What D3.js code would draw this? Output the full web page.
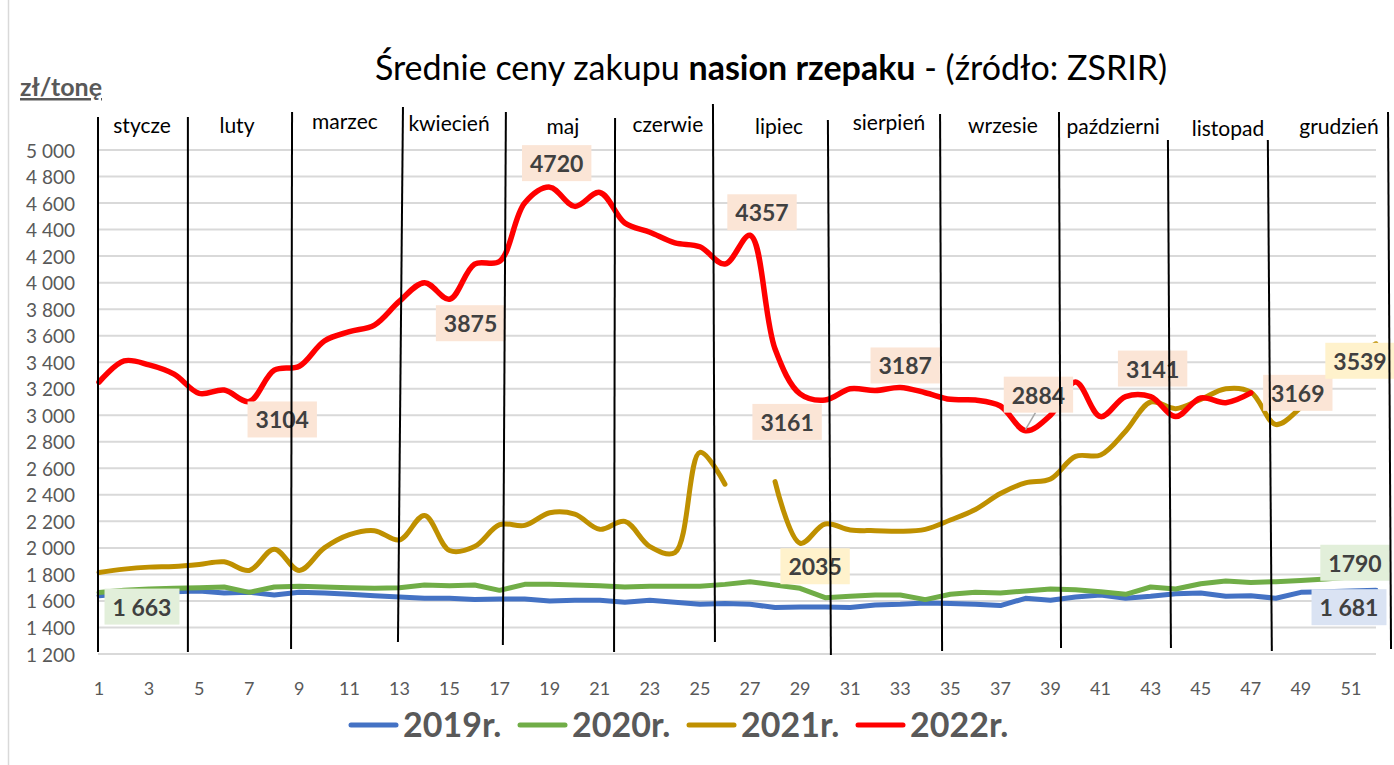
<!DOCTYPE html>
<html>
<head>
<meta charset="utf-8">
<script src="https://cdn.jsdelivr.net/npm/d3@7"></script>
<style>
  html, body { margin: 0; padding: 0; background: #fff; }
  svg { display: block; font-family: Lato, Carlito, Calibri, "Open Sans", sans-serif; }
</style>
</head>
<body>
<div id="chart"></div>
<script>
// ---------------------------------------------------------------------------
// Średnie ceny zakupu nasion rzepaku (ZSRIR) — weekly prices, zł/tonę
// ---------------------------------------------------------------------------

const weeks = d3.range(1, 53);

const seriesNames = ['2019r.', '2020r.', '2021r.', '2022r.'];

const price2019 = [1640, 1655, 1665, 1670, 1675, 1660, 1665, 1645, 1665, 1660,
  1650, 1640, 1630, 1620, 1620, 1610, 1615, 1615, 1600, 1605,
  1605, 1590, 1605, 1590, 1575, 1580, 1575, 1550, 1555, 1555,
  1550, 1570, 1575, 1585, 1580, 1575, 1565, 1620, 1605, 1630,
  1645, 1620, 1635, 1655, 1660, 1635, 1640, 1620, 1665, 1670,
  1675, 1681];

const price2020 = [1663, 1680, 1690, 1695, 1700, 1705, 1665, 1705, 1710, 1705,
  1700, 1695, 1700, 1720, 1715, 1720, 1680, 1725, 1725, 1720,
  1715, 1705, 1710, 1710, 1710, 1725, 1745, 1720, 1695, 1625,
  1635, 1645, 1645, 1610, 1650, 1665, 1660, 1675, 1690, 1685,
  1670, 1650, 1705, 1690, 1730, 1750, 1740, 1745, 1755, 1765,
  1780, 1790];

const price2021 = [1815, 1840, 1855, 1860, 1875, 1895, 1830, 1990, 1830, 2000,
  2100, 2130, 2060, 2245, 1980, 2010, 2175, 2170, 2265, 2255,
  2140, 2200, 2010, 1965, 2720, 2480, null, 2500, 2035, 2180,
  2135, 2130, 2125, 2140, 2210, 2290, 2410, 2490, 2520, 2690,
  2700, 2880, 3100, 3050, 3120, 3200, 3175, 2930, 3060, 3260,
  3420, 3539];

const price2022 = [3250, 3410, 3380, 3310, 3165, 3190, 3104, 3340, 3370, 3560,
  3630, 3680, 3860, 4000, 3875, 4140, 4160, 4600, 4720, 4575,
  4680, 4450, 4380, 4300, 4270, 4140, 4357, 3500, 3161, 3115,
  3200, 3187, 3210, 3170, 3120, 3115, 3070, 2884, 3000, 3250,
  2990, 3141, 3140, 2990, 3130, 3095, 3169, null, null, null,
  null, null];

const yTicks = d3.range(1200, 5001, 200);
const xTicks = d3.range(1, 52, 2);

const monthNames = ['stycze', 'luty', 'marzec', 'kwiecień', 'maj', 'czerwie',
  'lipiec', 'sierpień', 'wrzesie', 'październi', 'listopad', 'grudzień'];
// where each month name sits, in weeks
const monthCenters = [2.72, 6.51, 10.82, 14.98, 19.53, 23.72, 28.16, 32.55, 37.1, 41.5, 46.09, 50.52];

// hand-drawn month dividers: [week at top, price at top, week at bottom, price at bottom]
const monthDividers = [
  [0.96, 5249, 0.96, 1215], [4.55, 5249, 4.55, 1215], [8.71, 5287, 8.67, 1238],
  [13.14, 5324, 12.94, 1290], [17.25, 5287, 17.13, 1268], [21.61, 5241, 21.57, 1215],
  [25.52, 5347, 25.60, 1290], [30.11, 5226, 30.23, 1192], [34.59, 5272, 34.67, 1223],
  [39.34, 5287, 39.42, 1245], [43.69, 5075, 43.81, 1245], [47.68, 5075, 47.84, 1223],
  [52.48, 5287, 52.60, 1238]
];

// data labels: series index, week
const labelPoints = [
  [3, 19], [3, 27], [3, 15], [3, 7], [3, 29], [3, 32], [3, 38], [3, 42], [3, 47],
  [2, 29], [2, 52], [1, 1], [1, 52], [0, 52]
];

// ---------------------------------------------------------------------------
const W = 1394, H = 765;
const colors = ['#4472C4', '#70AD47', '#BF9000', '#FF0000'];
const labelFills = ['#DAE3F3', '#E2EFDA', '#FFF2CC', '#FBE5D6'];
const smooth = [false, false, true, true];
const allSeries = [price2019, price2020, price2021, price2022];

// label box offsets (px) from its point, same order as labelPoints
const labelOffsets = [
  [7, -24], [12, -23], [21, 24], [33, 18], [-13, 28], [30, -25], [13, -36], [27, -28], [47, 0],
  [15, 23], [-16, 17], [43, 14], [-21, -13], [-27, 17]
];
// small vertical shifts of the hand-placed month names
const monthDy = [0, 0, -4, -2, 1, -1, 1, -3, 0, 1, 3, 1];

const x = d3.scaleLinear().domain([1, 52]).range([99, 1376]);
const y = d3.scaleLinear().domain([1200, 5000]).range([654, 150]);

const fmtSpace = d3.formatLocale({ decimal: ',', thousands: ' ', grouping: [3], currency: ['', ' zł'] }).format(',d');

const svg = d3.select('#chart').append('svg')
  .attr('width', W).attr('height', H)
  .attr('viewBox', `0 0 ${W} ${H}`);

// outer chart border (left side is the only visible edge)
svg.append('line')
  .attr('x1', 8.5).attr('x2', 8.5).attr('y1', 0).attr('y2', H)
  .attr('stroke', '#d9d9d9').attr('stroke-width', 1.5);

// Title
const title = svg.append('text')
  .attr('x', 771).attr('y', 80)
  .attr('text-anchor', 'middle')
  .attr('font-size', '34px').attr('fill', '#000');
title.append('tspan').text('Średnie ceny zakupu ');
title.append('tspan').attr('font-weight', 700).text('nasion rzepaku');
title.append('tspan').text(' - (źródło: ZSRIR)');

// unit label
svg.append('text')
  .attr('x', 20).attr('y', 96)
  .attr('font-size', '25px').attr('font-weight', 700)
  .attr('fill', '#595959').attr('text-decoration', 'underline')
  .text('zł/tonę');

// Gridlines
svg.append('g').selectAll('line').data(yTicks).join('line')
  .attr('x1', x(1) - 1).attr('x2', x(52))
  .attr('y1', d => y(d)).attr('y2', d => y(d))
  .attr('stroke', '#d9d9d9').attr('stroke-width', 2);

// Y tick labels
svg.append('g').selectAll('text').data(yTicks).join('text')
  .attr('x', 75).attr('y', d => y(d))
  .attr('text-anchor', 'end').attr('dominant-baseline', 'central')
  .attr('font-size', '19px').attr('fill', '#595959')
  .text(d => fmtSpace(d));

// X tick labels
svg.append('g').selectAll('text').data(xTicks).join('text')
  .attr('x', d => x(d)).attr('y', 695)
  .attr('text-anchor', 'middle')
  .attr('font-size', '18px').attr('fill', '#595959')
  .text(d => d);

// Series lines
allSeries.forEach((vals, i) => {
  const line = d3.line()
    .defined(d => d[1] != null)
    .x(d => x(d[0])).y(d => y(d[1]))
    .curve(smooth[i] ? d3.curveCatmullRom.alpha(0.5) : d3.curveLinear);
  svg.append('path')
    .datum(weeks.map((w, k) => [w, vals[k]]))
    .attr('d', line)
    .attr('fill', 'none')
    .attr('stroke', colors[i])
    .attr('stroke-width', i === 3 ? 5.5 : 5)
    .attr('stroke-linejoin', 'round')
    .attr('stroke-linecap', 'round');
});

// Data labels
const labelG = svg.append('g');
labelPoints.forEach(([s, w], k) => {
  const v = allSeries[s][w - 1];
  const px = x(w), py = y(v);
  const cx = px + labelOffsets[k][0], cy = py + labelOffsets[k][1];
  const txt = v < 1700 && s < 2 ? fmtSpace(v) : String(v);

  if (s === 3 && w === 38) {
    // leader line
    labelG.append('line')
      .attr('x1', px).attr('y1', py - 1)
      .attr('x2', cx - 3).attr('y2', cy + 18)
      .attr('stroke', '#a6a6a6').attr('stroke-width', 1.5);
  }
  const g = labelG.append('g');
  const rect = g.append('rect').attr('fill', labelFills[s]);
  const t = g.append('text')
    .attr('x', cx).attr('y', cy)
    .attr('text-anchor', 'middle').attr('dominant-baseline', 'central')
    .attr('font-size', '23px').attr('font-weight', 700).attr('fill', '#404040')
    .text(txt);
  const tw = t.node().getComputedTextLength();
  rect.attr('x', cx - tw / 2 - 8).attr('y', cy - 18)
    .attr('width', tw + 16).attr('height', 36);
});

// Month dividers (drawn on top of everything)
svg.append('g').selectAll('line').data(monthDividers).join('line')
  .attr('x1', d => x(d[0])).attr('y1', d => y(d[1]))
  .attr('x2', d => x(d[2])).attr('y2', d => y(d[3]))
  .attr('stroke', '#000').attr('stroke-width', 2);

// Month names
svg.append('g').selectAll('text').data(monthNames).join('text')
  .attr('x', (d, i) => x(monthCenters[i]))
  .attr('y', (d, i) => 133 + monthDy[i])
  .attr('text-anchor', 'middle')
  .attr('font-size', '21px').attr('fill', '#000')
  .text(d => d);

// Legend
const legendX = [348, 517, 686, 855];
const legend = svg.append('g');
seriesNames.forEach((name, i) => {
  legend.append('line')
    .attr('x1', legendX[i] + 3).attr('x2', legendX[i] + 48)
    .attr('y1', 725).attr('y2', 725)
    .attr('stroke', colors[i]).attr('stroke-width', 5)
    .attr('stroke-linecap', 'round');
  legend.append('text')
    .attr('x', legendX[i] + 55).attr('y', 737)
    .attr('font-size', '34px').attr('font-weight', 700).attr('fill', '#595959')
    .text(name);
});
</script>
</body>
</html>
